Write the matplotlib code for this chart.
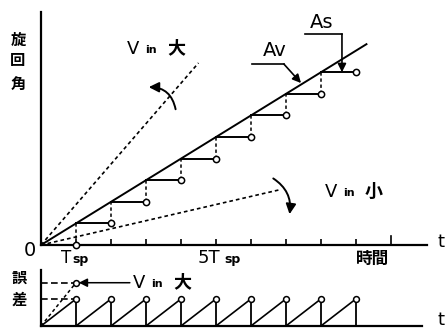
import matplotlib
matplotlib.use("Agg")
import matplotlib.pyplot as plt
from matplotlib.patches import FancyArrowPatch

plt.rcParams['font.family'] = ['Noto Sans CJK JP', 'DejaVu Sans']
LATIN = ['DejaVu Sans']

# --- data (time in units of Tsp, angle in units of one sample step) ---
sample_k = [1, 2, 3, 4, 5, 6, 7, 8]          # sampling instants with a held step
held_values = [1, 2, 3, 4, 5, 6, 7, 8]       # angle held after each sample
command_t = [0, 9.3]                          # command angle line (slope 1)
command_angle = [0, 9.3]
fast_t = [0, 4.5]                             # Vin large
fast_angle = [0, 8.43]
slow_t = [0, 6.8]                             # Vin small
slow_angle = [0, 2.55]

saw_peaks_t = [1, 2, 3, 4, 5, 6, 7, 8, 9]     # error sawtooth peaks
saw_peak = 1.0
fast_err = 1.6                                # error peak for Vin large

W, H = 448, 330
fig = plt.figure(figsize=(W / 100, H / 100), dpi=100)
fig.patch.set_facecolor('white')

def px(x, y):
    return x / W, 1 - y / H

LW = 1.4
DASH = (0, (2.2, 1.8))
ARROW = '-|>,head_length=5,head_width=2.5'

# ---------------- main panel ----------------
ax = fig.add_axes([41 / W, (H - 245) / H, 386 / W, 233 / H])
ax.set_xlim(0, 11.03)
ax.set_ylim(0, 10.79)
for s in ['top', 'right']:
    ax.spines[s].set_visible(False)
for s in ['left', 'bottom']:
    ax.spines[s].set_linewidth(1.6)
ax.set_yticks([])
ax.set_xticks(range(1, 10))
ax.set_xticklabels([])
ax.tick_params(axis='x', direction='in', length=4, width=1.2)

# tall tick at 10 Tsp
ax.plot([10, 10], [0, 0.42], color='black', lw=1.2, clip_on=False)

ax.plot(command_t, command_angle, color='black', lw=LW)
ax.plot(fast_t, fast_angle, color='black', lw=1.2, ls=DASH)
ax.plot(slow_t, slow_angle, color='black', lw=1.2, ls=DASH)

# first sample on the axis
ax.plot([1, 1], [0, 1], color='black', lw=1.1, ls=DASH)
ax.plot([1], [0], marker='o', ms=4.5, mfc='white', mec='black', mew=1.1, clip_on=False, zorder=5)
for k, v in zip(sample_k, held_values):
    ax.plot([k, k + 1], [v, v], color='black', lw=LW)
    ax.plot([k + 1], [v], marker='o', ms=4.5, mfc='white', mec='black', mew=1.1, zorder=5)
    if k + 1 <= 8:
        ax.plot([k + 1, k + 1], [v, v + 1], color='black', lw=1.1, ls=DASH)

# curved arrows showing the change of slope
ax.add_patch(FancyArrowPatch((3.86, 6.16), (3.0, 7.31), connectionstyle="arc3,rad=0.45",
                             arrowstyle='-|>,head_length=6,head_width=3', color='black', lw=1.4,
                             mutation_scale=1))
ax.add_patch(FancyArrowPatch((6.57, 3.15), (7.09, 1.30), connectionstyle="arc3,rad=-0.35",
                             arrowstyle='-|>,head_length=6,head_width=3', color='black', lw=1.4,
                             mutation_scale=1))

# Av / As leaders
ax.plot([6.03, 6.94], [8.38, 8.38], color='black', lw=1.2)
ax.add_patch(FancyArrowPatch((6.94, 8.38), (7.43, 7.5), arrowstyle=ARROW,
                             color='black', lw=1.2, mutation_scale=1, shrinkA=0, shrinkB=0))
ax.plot([7.54, 8.6], [9.77, 9.77], color='black', lw=1.2)
ax.add_patch(FancyArrowPatch((8.6, 9.77), (8.6, 8.0), arrowstyle=ARROW,
                             color='black', lw=1.2, mutation_scale=1, shrinkA=0, shrinkB=0))

# ---------------- error panel ----------------
ax2 = fig.add_axes([41 / W, (H - 326) / H, 381 / W, 56 / H])
ax2.set_xlim(0, 10.89)
ax2.set_ylim(0, 2.07)
for s in ['top', 'right']:
    ax2.spines[s].set_visible(False)
for s in ['left', 'bottom']:
    ax2.spines[s].set_linewidth(1.6)
ax2.set_xticks([])
ax2.set_yticks([])

for k in saw_peaks_t:
    ax2.plot([k - 1, k], [0, saw_peak], color='black', lw=1.2)
    ax2.plot([k, k], [saw_peak, 0], color='black', lw=1.3)
    ax2.plot([k], [saw_peak], marker='o', ms=4.2, mfc='white', mec='black', mew=1.1, zorder=5)

ax2.plot([0, 1], [saw_peak, saw_peak], color='black', lw=1.2, ls=(0, (4, 2)))
ax2.plot([0, 1], [fast_err, fast_err], color='black', lw=1.2, ls=(0, (4, 2)))
ax2.plot([0, 1], [0, fast_err], color='black', lw=1.1, ls=DASH)
ax2.plot([1], [fast_err], marker='o', ms=4.2, mfc='white', mec='black', mew=1.1, zorder=5)
ax2.add_patch(FancyArrowPatch((2.54, fast_err), (1.08, fast_err), arrowstyle=ARROW,
                              color='black', lw=1.1, mutation_scale=1, shrinkA=0, shrinkB=0))

# ---------------- text ----------------
def t(x, y, s, size, latin=False, **kw):
    if latin:
        kw['family'] = LATIN
    fig.text(*px(x, y), s, fontsize=size, color='black', ha='center', va='center', **kw)

# vertical axis titles
for ch, y in zip("旋回角", [40, 60, 84]):
    t(18, y, ch, 11, fontweight='bold')
for ch, y in zip("誤差", [278, 300]):
    t(19, y, ch, 11, fontweight='bold')

t(30, 251, "0", 14, latin=True)
t(441, 242, "t", 13, latin=True)
t(441, 320, "t", 13, latin=True)

# tick labels
t(66, 258, "T", 12, latin=True)
t(80, 260, "sp", 9, latin=True, fontweight='bold')
t(209, 258, "5T", 13, latin=True)
t(232, 260, "sp", 9, latin=True, fontweight='bold')
t(373, 259, "時間", 12, fontweight='bold')

# Vin labels
def vin(x, y, cjk):
    t(x, y, "V", 13, latin=True)
    t(x + 18, y + 1, "in", 8, latin=True, fontweight='bold')
    t(x + 43, y - 1, cjk, 13, fontweight='bold')

vin(133, 49, "大")
vin(331, 192, "小")
vin(139, 283, "大")

t(275, 51, "Av", 14, latin=True)
t(322, 23, "As", 14, latin=True)

fig.savefig("out.png", dpi=100)
